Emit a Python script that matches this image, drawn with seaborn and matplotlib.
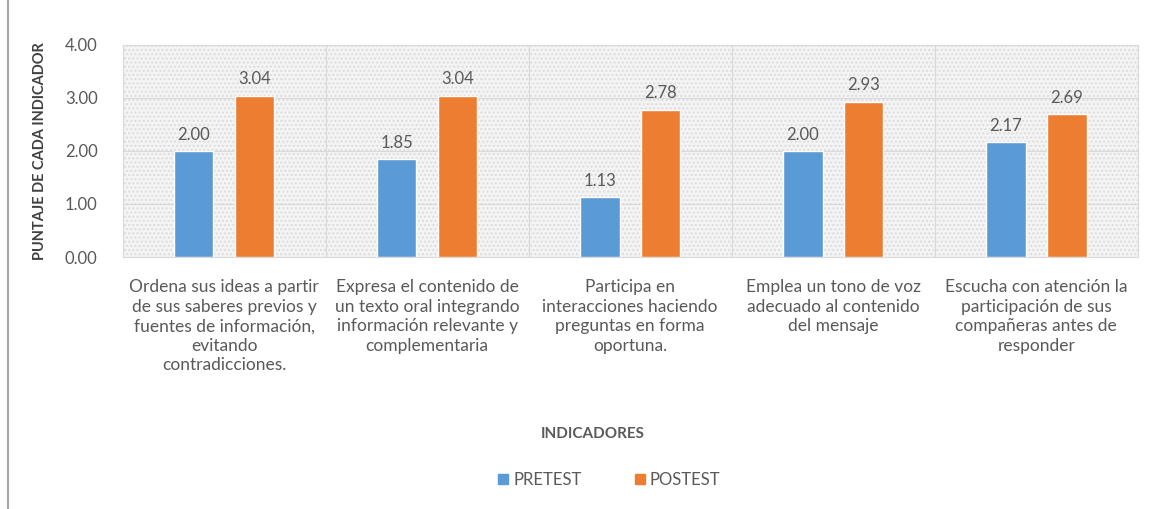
import seaborn as sns
import numpy as np
import pandas as pd
import matplotlib.pyplot as plt
from matplotlib.lines import Line2D

categorias = [
    "Ordena sus ideas a partir\nde sus saberes previos y\nfuentes de información,\nevitando\ncontradicciones.",
    "Expresa el contenido de\nun texto oral integrando\ninformación relevante y\ncomplementaria",
    "Participa en\ninteracciones haciendo\npreguntas en forma\noportuna.",
    "Emplea un tono de voz\nadecuado al contenido\ndel mensaje",
    "Escucha con atención la\nparticipación de sus\ncompañeras antes de\nresponder",
]
pretest = [2.00, 1.85, 1.13, 2.00, 2.17]
postest = [3.04, 3.04, 2.78, 2.93, 2.69]
grupos = ["PRETEST", "POSTEST"]
colores = ["#5b9bd5", "#ed7d31"]

df = pd.DataFrame({
    "indicador": categorias * 2,
    "grupo": [grupos[0]] * 5 + [grupos[1]] * 5,
    "valor": pretest + postest,
})

sns.set_style("white")
plt.rcParams["font.family"] = ["Lato", "DejaVu Sans"]

fig = plt.figure(figsize=(11.67, 5.09), dpi=100)
ax = fig.add_axes([0.105, 0.495, 0.87, 0.417])

ax.set_facecolor("#f4f4f4")
ax.patch.set_hatch("....")
ax.patch.set_edgecolor("#dcdcdc")
ax.patch.set_linewidth(0)

sns.barplot(data=df, x="indicador", y="valor", hue="grupo", palette=colores,
            width=0.6, gap=0.35, ax=ax, zorder=3, saturation=1)

for cont in ax.containers:
    ax.bar_label(cont, fmt="%.2f", padding=6, fontsize=12, color="#595959")

ax.set_ylim(0, 4)
ax.set_yticks(np.arange(0, 4.01, 1))
ax.set_yticklabels([f"{v:.2f}" for v in np.arange(0, 4.01, 1)], fontsize=12, color="#595959")
ax.set_xlim(-0.5, 4.5)
ax.set_xticks(range(5))
ax.set_xticklabels(categorias, fontsize=12.5, color="#595959", linespacing=1.27)
ax.tick_params(axis="y", length=0, pad=18)
ax.tick_params(axis="x", length=0, pad=16)
ax.set_xticks(np.arange(0.5, 4.5, 1), minor=True)
ax.tick_params(axis="x", which="minor", length=0)

ax.grid(axis="y", which="major", color="#d9d9d9", linewidth=0.8, zorder=0)
ax.grid(axis="x", which="minor", color="#d9d9d9", linewidth=0.8, zorder=0)
ax.set_axisbelow(True)
for s in ax.spines.values():
    s.set_color("#d9d9d9")
    s.set_linewidth(0.8)

ax.set_xlabel("")
ax.set_ylabel("PUNTAJE DE CADA INDICADOR", fontsize=10.5, fontweight="bold", color="#404040")
ax.yaxis.set_label_coords(-0.074, 0.5)

fig.text(0.508, 0.148, "INDICADORES", ha="center", va="center", fontsize=11,
         fontweight="bold", color="#595959")

ax.legend_.remove()
handles = [plt.Rectangle((0, 0), 1, 1, color=c) for c in colores]
fig.legend(handles, grupos, loc="center", bbox_to_anchor=(0.522, 0.057), ncol=2,
           frameon=False, fontsize=12, handlelength=0.6, handleheight=0.6,
           handletextpad=0.3, columnspacing=3.2, labelcolor="#595959")

fig.add_artist(Line2D([0.007, 0.007], [0.0, 1.0], color="#a6a6a6", linewidth=1.5))

fig.savefig("out.png", dpi=100, facecolor="white")
